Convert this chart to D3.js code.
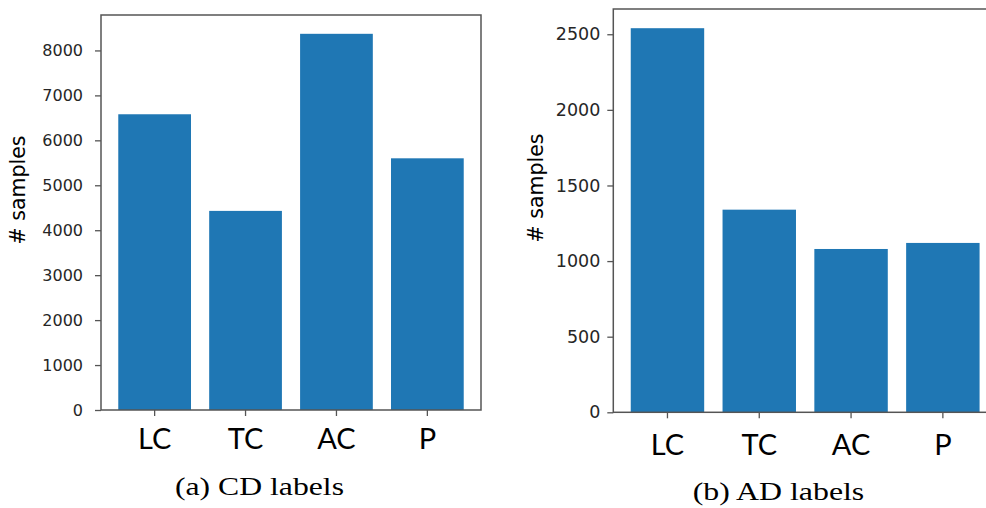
<!DOCTYPE html>
<html>
<head>
<meta charset="utf-8">
<script src="https://cdn.jsdelivr.net/npm/d3@7"></script>
<style>
  html, body { margin: 0; padding: 0; background: #fff; }
  svg { display: block; }
</style>
</head>
<body>
<svg id="fig" width="986" height="508"></svg>
<script>
// Label categories shared by both panels
const categories = ["LC", "TC", "AC", "P"];

// Sample counts per category
const cdCounts = [6580, 4430, 8370, 5600];
const adCounts = [2540, 1340, 1080, 1120];

// Y-axis tick values for each panel
const cdTicks = [0, 1000, 2000, 3000, 4000, 5000, 6000, 7000, 8000];
const adTicks = [0, 500, 1000, 1500, 2000, 2500];

const captions = ["(a) CD labels", "(b) AD labels"];

const svg = d3.select("#fig");
const barColor = "#1f77b4";
const spineColor = "#555";

function panel(cfg) {
  const g = svg.append("g");
  const { left, right, top, bottom } = cfg;

  // Band scale laid out like a matplotlib bar chart: width 0.8, 5% margins
  const x = d3.scaleBand()
    .domain(cfg.categories)
    .range([left, right])
    .paddingInner(0.2)
    .paddingOuter(0.19);

  const y = d3.scaleLinear()
    .domain([0, d3.max(cfg.values) * 1.05])
    .range([bottom, top]);

  // Clip so the plot stays inside its frame
  const clipId = "clip-" + cfg.id;
  svg.append("defs").append("clipPath").attr("id", clipId)
    .append("rect").attr("x", left).attr("y", top)
    .attr("width", right - left).attr("height", bottom - top);

  g.append("g").attr("clip-path", `url(#${clipId})`)
    .selectAll("rect")
    .data(cfg.categories.map((c, i) => ({ c, v: cfg.values[i] })))
    .join("rect")
    .attr("x", d => x(d.c))
    .attr("width", x.bandwidth())
    .attr("y", d => y(d.v))
    .attr("height", d => y(0) - y(d.v))
    .attr("fill", barColor);

  // Y axis
  const yAxis = d3.axisLeft(y)
    .tickValues(cfg.yTicks)
    .tickFormat(d3.format("d"))
    .tickSize(6)
    .tickPadding(cfg.yPad);
  const ya = g.append("g").attr("transform", `translate(${left},0)`).call(yAxis);
  ya.select(".domain").remove();
  ya.selectAll(".tick line").attr("stroke", spineColor).attr("stroke-width", 1.3);
  ya.selectAll(".tick text")
    .attr("fill", "#262626")
    .style("font-family", "'DejaVu Sans', sans-serif")
    .style("font-size", cfg.yFont + "px");

  // X axis
  const xAxis = d3.axisBottom(x).tickSize(6).tickPadding(cfg.xPad);
  const xa = g.append("g").attr("transform", `translate(0,${bottom})`).call(xAxis);
  xa.select(".domain").remove();
  xa.selectAll(".tick line").attr("stroke", spineColor).attr("stroke-width", 1.3);
  xa.selectAll(".tick text")
    .attr("fill", "#000")
    .attr("dy", "0.71em")
    .style("font-family", "Lato, 'Open Sans', sans-serif")
    .style("font-size", cfg.xFont + "px");

  // Frame
  g.append("rect")
    .attr("x", left).attr("y", top)
    .attr("width", right - left).attr("height", bottom - top)
    .attr("fill", "none")
    .attr("stroke", spineColor)
    .attr("stroke-width", 1.5);

  // Y-axis title
  g.append("text")
    .attr("transform", `translate(${cfg.yLabelX},${cfg.yLabelY}) rotate(-90)`)
    .attr("text-anchor", "middle")
    .attr("fill", "#000")
    .style("font-family", "'DejaVu Sans', sans-serif")
    .style("font-size", "20.5px")
    .text("# samples");

  // Caption under the panel
  g.append("text")
    .attr("x", cfg.capX - cfg.capW / 2)
    .attr("y", cfg.capY)
    .attr("textLength", cfg.capW)
    .attr("lengthAdjust", "spacingAndGlyphs")
    .attr("fill", "#000")
    .style("font-family", "'Liberation Serif', serif")
    .style("font-size", "26px")
    .text(cfg.caption);
}

panel({
  id: "cd", categories, values: cdCounts, yTicks: cdTicks,
  left: 101, right: 481, top: 15, bottom: 410,
  yPad: 12, yFont: 16, xPad: 12, xFont: 29,
  yLabelX: 25, yLabelY: 190,
  caption: captions[0], capX: 259.5, capY: 495, capW: 169
});

panel({
  id: "ad", categories, values: adCounts, yTicks: adTicks,
  left: 613.3, right: 613.3 + 4.18 * 91.8, top: 9, bottom: 412.3,
  yPad: 7, yFont: 17.5, xPad: 16, xFont: 29,
  yLabelX: 543, yLabelY: 188,
  caption: captions[1], capX: 778.5, capY: 500, capW: 171.6
});
</script>
</body>
</html>
